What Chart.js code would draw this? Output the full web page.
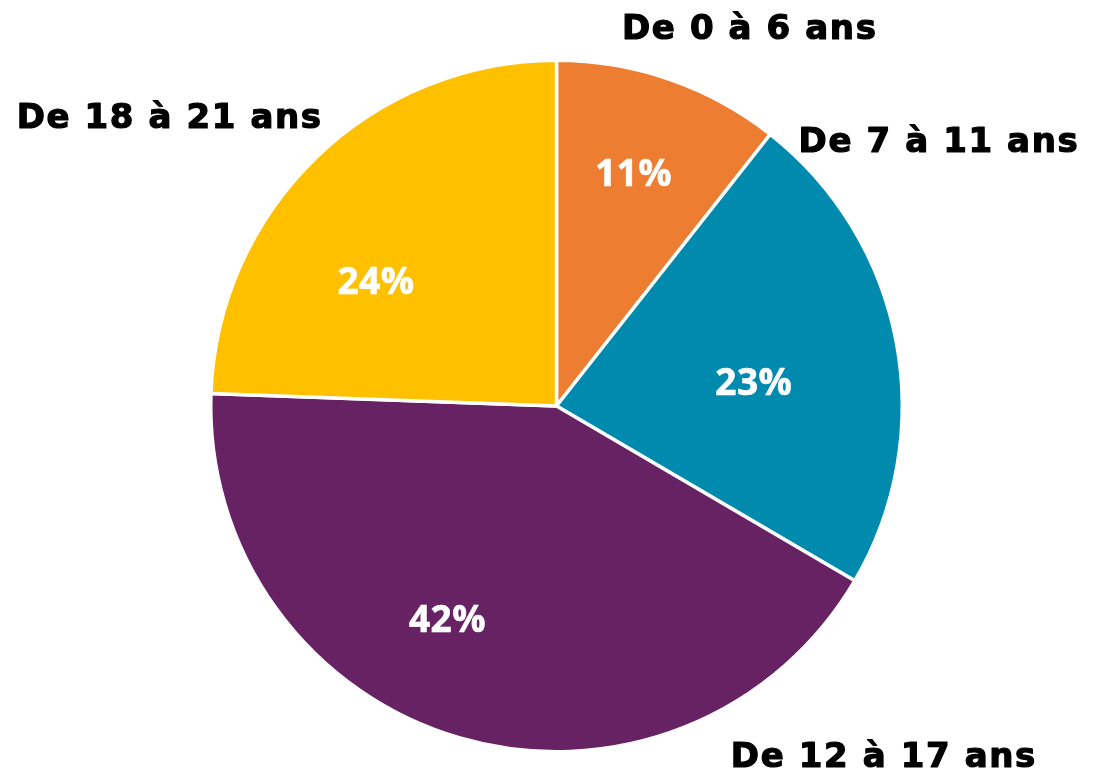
<!DOCTYPE html>
<html lang="fr">
<head>
    <meta charset="UTF-8">
    <title>Répartition par âge</title>
    <script src="https://cdn.jsdelivr.net/npm/chart.js"></script>
    <style>
        * {
            margin: 0;
            padding: 0;
            box-sizing: border-box;
        }

        body {
            background-color: #fff;
            width: 1094px;
            height: 776px;
            overflow: hidden;
        }
    </style>
</head>
<body>
    <canvas id="ageChart" width="1094" height="776"></canvas>

    <script>
        // Data
        var categories = ['De 0 à 6 ans', 'De 7 à 11 ans', 'De 12 à 17 ans', 'De 18 à 21 ans'];
        var shares = [10.6, 22.8, 42.1, 24.4];
        var sliceColors = ['#ED7D31', '#008AAD', '#672264', '#FFC000'];

        // Label spots: [angle from top in degrees, fraction of radius]
        var nameSpots = [[27.0, 1.231], [55.2, 1.347], [136.8, 1.383], [306.9, 1.399]];
        var pctSpots = [[18.3, 0.709], [83.1, 0.575], [207.1, 0.692], [304.7, 0.635]];

        var pieLabels = {
            id: 'pieLabels',
            afterDatasetsDraw: function (chart) {
                var ctx = chart.ctx;
                var arcs = chart.getDatasetMeta(0).data;
                var total = shares.reduce(function (a, b) { return a + b; }, 0);
                ctx.save();
                ctx.textAlign = 'center';
                ctx.textBaseline = 'alphabetic';
                ctx.lineJoin = 'round';
                arcs.forEach(function (arc, i) {
                    var cx = arc.x, cy = arc.y, r = arc.outerRadius;
                    // percent inside
                    var p = pctSpots[i];
                    var a = p[0] * Math.PI / 180;
                    var px = cx + Math.sin(a) * r * p[1];
                    var py = cy - Math.cos(a) * r * p[1];
                    var pct = Math.round(shares[i] / total * 100) + '%';
                    ctx.font = 'bold 37px "Open Sans"';
                    ctx.letterSpacing = '0.5px';
                    ctx.fillStyle = '#fff';
                    ctx.strokeStyle = '#fff';
                    ctx.lineWidth = 0.6;
                    ctx.fillText(pct, px, py + 37 * 0.714 / 2);
                    ctx.strokeText(pct, px, py + 37 * 0.714 / 2);
                    // category name outside
                    var n = nameSpots[i];
                    var b = n[0] * Math.PI / 180;
                    var nx = cx + Math.sin(b) * r * n[1];
                    var ny = cy - Math.cos(b) * r * n[1];
                    ctx.font = 'bold 34px "DejaVu Sans"';
                    ctx.letterSpacing = '1.6px';
                    ctx.fillStyle = '#000';
                    ctx.strokeStyle = '#000';
                    ctx.lineWidth = 1.2;
                    ctx.fillText(categories[i], nx, ny + 33 * 0.729 / 2);
                    ctx.strokeText(categories[i], nx, ny + 33 * 0.729 / 2);
                });
                ctx.restore();
            }
        };

        var ctx1 = document.getElementById('ageChart').getContext('2d');
        var ageChart = new Chart(ctx1, {
            type: 'pie',
            data: {
                labels: categories,
                datasets: [{
                    data: shares,
                    backgroundColor: sliceColors,
                    borderColor: '#fff',
                    borderWidth: 3.5
                }]
            },
            options: {
                responsive: false,
                animation: false,
                layout: {
                    padding: { left: 209, right: 190, top: 58, bottom: 22 }
                },
                plugins: {
                    legend: { display: false },
                    tooltip: { enabled: false }
                }
            },
            plugins: [pieLabels]
        });
    </script>
</body>
</html>
